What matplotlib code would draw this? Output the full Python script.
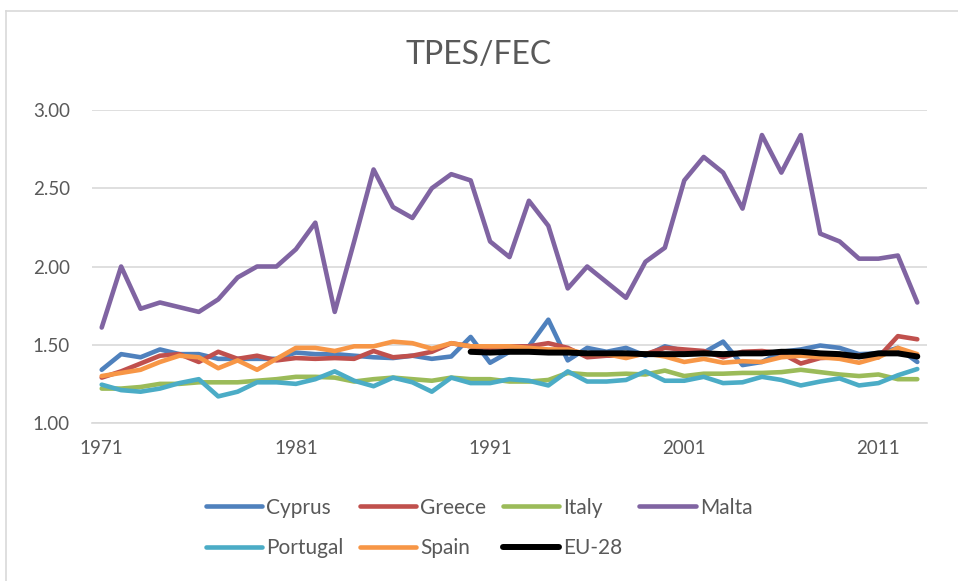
import numpy as np
import matplotlib.pyplot as plt
from matplotlib.lines import Line2D

years = list(range(1971, 2014))

cyprus = [1.34, 1.44, 1.42, 1.47, 1.44, 1.44, 1.41, 1.41, 1.41, 1.41,
          1.45, 1.44, 1.44, 1.43, 1.42, 1.415, 1.43, 1.41, 1.425, 1.55,
          1.385, 1.455, 1.49, 1.66, 1.40, 1.48, 1.455, 1.48, 1.43, 1.49,
          1.46, 1.45, 1.52, 1.37, 1.39, 1.455, 1.47, 1.495, 1.48, 1.44,
          1.445, 1.48, 1.39]
greece = [1.29, 1.33, 1.38, 1.43, 1.44, 1.39, 1.455, 1.41, 1.43, 1.40,
          1.415, 1.41, 1.415, 1.41, 1.46, 1.42, 1.43, 1.455, 1.51, 1.49,
          1.48, 1.49, 1.49, 1.51, 1.48, 1.42, 1.43, 1.43, 1.44, 1.48,
          1.47, 1.46, 1.42, 1.455, 1.46, 1.445, 1.38, 1.415, 1.42, 1.43,
          1.42, 1.555, 1.535]
italy = [1.22, 1.22, 1.23, 1.25, 1.25, 1.26, 1.26, 1.26, 1.27, 1.28,
         1.295, 1.295, 1.29, 1.265, 1.28, 1.29, 1.28, 1.27, 1.29, 1.28,
         1.28, 1.265, 1.265, 1.275, 1.32, 1.31, 1.31, 1.315, 1.31, 1.335,
         1.30, 1.315, 1.315, 1.32, 1.32, 1.325, 1.34, 1.325, 1.31, 1.30,
         1.31, 1.28, 1.28]
malta = [1.61, 2.00, 1.73, 1.77, 1.74, 1.71, 1.79, 1.93, 2.00, 2.00,
         2.11, 2.28, 1.71, 2.16, 2.62, 2.38, 2.31, 2.50, 2.59, 2.55,
         2.16, 2.06, 2.42, 2.26, 1.86, 2.00, 1.90, 1.80, 2.03, 2.12,
         2.55, 2.70, 2.60, 2.37, 2.84, 2.60, 2.84, 2.21, 2.16, 2.05,
         2.05, 2.07, 1.77]
portugal = [1.245, 1.21, 1.20, 1.22, 1.255, 1.28, 1.17, 1.20, 1.26, 1.26,
            1.25, 1.28, 1.33, 1.27, 1.235, 1.29, 1.26, 1.20, 1.29, 1.255,
            1.255, 1.28, 1.27, 1.24, 1.33, 1.265, 1.265, 1.275, 1.33, 1.27,
            1.27, 1.295, 1.255, 1.26, 1.295, 1.275, 1.24, 1.265, 1.285, 1.24,
            1.255, 1.305, 1.345]
spain = [1.30, 1.32, 1.34, 1.39, 1.43, 1.42, 1.35, 1.40, 1.34, 1.41,
         1.48, 1.48, 1.46, 1.49, 1.49, 1.52, 1.51, 1.475, 1.51, 1.49,
         1.49, 1.49, 1.48, 1.47, 1.47, 1.44, 1.44, 1.415, 1.445, 1.425,
         1.39, 1.41, 1.385, 1.395, 1.39, 1.42, 1.43, 1.42, 1.41, 1.385,
         1.42, 1.48, 1.44]
eu_years = list(range(1990, 2014))
eu28 = [1.455, 1.45, 1.455, 1.455, 1.45, 1.45, 1.445, 1.445, 1.445, 1.44,
        1.44, 1.44, 1.445, 1.44, 1.445, 1.445, 1.455, 1.455, 1.445, 1.44,
        1.425, 1.445, 1.445, 1.425]

SERIES = [
    ("Cyprus",   years, cyprus,   "#4F81BD", 3.3),
    ("Greece",   years, greece,   "#C0504D", 3.3),
    ("Italy",    years, italy,    "#9BBB59", 3.3),
    ("Malta",    years, malta,    "#8064A2", 3.3),
    ("Portugal", years, portugal, "#4BACC6", 3.3),
    ("Spain",    years, spain,    "#F79646", 3.3),
    ("EU-28",    eu_years, eu28,  "#000000", 4.3),
]

plt.rcParams['font.family'] = ['Lato', 'DejaVu Sans']
TXT = "#595959"

fig = plt.figure(figsize=(9.58, 5.81), dpi=100)
ax = fig.add_axes([92/958, 1 - 423/581, (927 - 92)/958, (423 - 110)/581])

lines = {}
for name, x, y, c, lw in SERIES:
    lines[name], = ax.plot(x, y, color=c, linewidth=lw, label=name, solid_capstyle="round")

ax.set_xlim(1970.5, 2013.5)
ax.set_ylim(1.0, 3.0)
ax.set_yticks([1.0, 1.5, 2.0, 2.5, 3.0])
ax.set_yticklabels(["1.00", "1.50", "2.00", "2.50", "3.00"])
ax.set_xticks([1971, 1981, 1991, 2001, 2011])
ax.tick_params(length=0, labelsize=13.5, labelcolor=TXT)
ax.tick_params(axis="y", pad=16)
ax.tick_params(axis="x", pad=12)
ax.grid(axis="y", color="#d9d9d9", linewidth=1.2)
ax.set_axisbelow(True)
for s in ["top", "right", "left"]:
    ax.spines[s].set_visible(False)
ax.spines["bottom"].set_color("#d9d9d9")
ax.spines["bottom"].set_linewidth(1.2)

fig.text(0.5, 1 - 55/581, "TPES/FEC", ha="center", va="center",
         fontsize=23, color=TXT)

# legend fills column-wise, so order entries to read row-wise
order = ["Cyprus", "Portugal", "Greece", "Spain", "Italy", "EU-28", "Malta"]
ax.legend([lines[n] for n in order], order,
          loc="center", bbox_to_anchor=(0.5, 1 - 528/581), bbox_transform=fig.transFigure,
          ncol=4, frameon=False, fontsize=15, labelcolor=TXT,
          handlelength=2.7, handletextpad=0.2, columnspacing=0.8, labelspacing=1.0)

# chart-area border
fig.add_artist(Line2D([6/958, 1], [1 - 11/581, 1 - 11/581], color="#d9d9d9", linewidth=1.2))
fig.add_artist(Line2D([6/958, 6/958], [0, 1 - 11/581], color="#d9d9d9", linewidth=1.2))

fig.savefig("out.png", dpi=100)
